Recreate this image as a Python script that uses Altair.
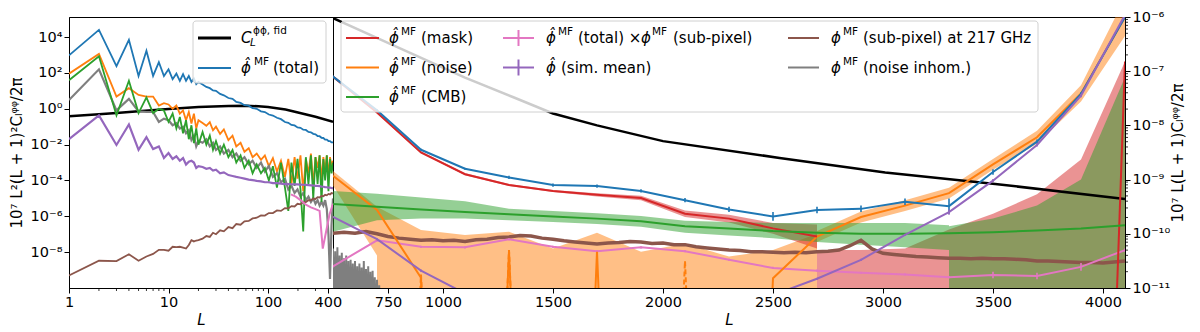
import altair as alt
import pandas as pd

FONT = "DejaVu Sans"
NEG = -30.0   # marks a non-positive value (falls off the log axis)

C_BLUE = "#1f77b4"; C_ORANGE = "#ff7f0e"; C_GREEN = "#2ca02c"; C_RED = "#d62728"
C_PURPLE = "#9467bd"; C_BROWN = "#8c564b"; C_PINK = "#e377c2"; C_GRAY = "#7f7f7f"

# ---------------- left panel data: L on log axis, log10 of 10^7 L^2(L+1)^2 C_L/2pi ----------------
L_left = [1, 2, 3, 4, 5, 6, 7, 8, 9, 10, 11, 12, 13, 14, 15, 16, 17, 18, 19, 20,
          22, 24, 26, 28, 30, 33, 36, 40, 44, 48, 53, 58, 64, 70, 77, 85, 93, 102, 112, 123, 135, 148,
          160, 172, 185, 198, 212, 226, 240, 255, 270, 285, 300, 315, 330, 345, 360, 375, 390, 405, 420, 435, 450]

blue_left = [2.98, 4.40, 2.38, 3.85, 1.83, 3.24, 1.83, 2.60, 1.83, 2.20, 1.65, 1.96, 1.56, 1.93, 1.56, 1.83, 1.50, 1.69, 1.37, 1.50,
             1.35, 1.22, 1.15, 1.02, 1.0, 0.83, 0.75, 0.6, 0.55, 0.38, 0.33, 0.2, 0.17, 0.03, 0.0, -0.14, -0.18, -0.32, -0.38, -0.5,
             -0.58, -0.74, -0.78, -0.9, -0.93, -1.04, -1.06, -1.17, -1.18, -1.29, -1.31, -1.4, -1.43, -1.52, -1.53, -1.62, -1.63,
             -1.72, -1.72, -1.8, -1.8, -1.88, -1.88]
orange_left = [1.96, 3.06, 0.68, 1.15, 0.77, 0.68, 0.68, 0.18, 0.31, 0.24, 0.0, 0.18, -0.27, -0.09, -0.64, -0.18, -0.82, -0.27, -1.1, -0.64,
               -0.8, -0.95, -0.75, -1.2, -1.0, -1.4, -1.15, -1.75, -1.5, -2.1, -1.9, -2.4, -2.2, -2.7, -2.5, -2.85, -2.6, -3.2, -2.75, -3.5,
               -2.9, -3.8, -2.8, -4.2, -2.7, -3.9, -2.6, -4.6, -2.8, -3.6, -2.5, -4.3, -2.7, -3.3, -2.6, -4.0, -2.7, -3.5, -2.6, -3.8,
               -2.7, -3.2, -2.9]
green_left = [1.59, 2.93, -0.37, 1.56, -0.24, 0.64, -0.24, 0.0, -0.1, -0.73, -0.27, -1.1, -0.46, -1.37, -0.64, -1.7, -0.92, -1.92, -1.1, -2.0,
              -1.3, -2.0, -1.5, -2.3, -1.8, -2.5, -2.0, -2.7, -2.3, -3.0, -2.6, -3.3, -2.9, -3.6, -3.1, -3.6, -3.3, -4.0, -3.2, -4.4,
              -3.0, -4.4, -5.7, -3.0, -4.3, -2.8, -4.5, -6.85, -2.7, -4.2, -2.6, -5.0, -2.7, -4.2, -2.6, -5.2, -2.8, -4.0, -2.6, -4.6,
              -2.8, -3.6, -3.0]
gray_left = [0.49, 2.2, -0.09, 0.55, -0.15, -0.18, -0.18, -0.73, -0.55, -0.64, -0.92, -0.8, -1.1, -1.0, -1.37, -1.2, -1.74, -1.5, -2.1, -1.8,
             -1.9, -1.7, -2.1, -1.9, -2.3, -2.1, -2.5, -2.3, -2.7, -2.5, -2.9, -2.7, -3.1, -2.9, -3.3, -3.0, -3.5, -3.2, -3.8, -3.6,
             -4.1, -3.9, -4.5, -4.3, -4.7, -4.5, -4.9, -4.7, -5.1, -4.9, -5.2, -5.0, -5.3, -5.1, -5.4, -5.2, -5.4, -5.1, -5.6, -7.0,
             -9.5, -6.5, -5.0]
purple_left = [-1.7, -0.37, -2.02, -0.88, -2.29, -1.59, -2.25, -2.1, -2.75, -2.47, -2.8, -2.65, -2.9, -2.75, -3.11, -2.95, -2.9, -3.0, -3.3, -3.2,
               -3.25, -3.35, -3.3, -3.45, -3.4, -3.6, -3.55, -3.7, -3.75, -3.8, -3.85, -3.9, -3.95, -3.98, -4.02, -4.05, -4.1, -4.1,
               -4.15, -4.15, -4.18, -4.2, -4.2, -4.21, -4.22, -4.22, -4.23, -4.24, -4.25, -4.26, -4.27, -4.28, -4.3, -4.3, -4.32,
               -4.34, -4.35, -4.37, -4.38, -4.4, -4.4, -4.42, -4.45]
brown_left = [-9.3, -8.48, -8.5, -8.12, -8.48, -8.24, -8.1, -7.87, -7.87, -7.92, -7.7, -7.72, -7.7, -7.75, -7.8, -7.6, -7.33, -7.4, -7.35, -7.33,
              -7.25, -7.1, -7.15, -6.92, -7.0, -6.78, -6.84, -6.6, -6.66, -6.43, -6.47, -6.28, -6.26, -6.12, -6.08, -5.95, -5.96,
              -5.82, -5.82, -5.67, -5.7, -5.54, -5.56, -5.43, -5.45, -5.3, -5.33, -5.2, -5.21, -5.1, -5.11, -5.01, -5.03, -4.93,
              -4.95, -4.86, -4.88, -4.8, -4.83, -4.75, -4.78, -4.7, -4.72]
pink_left_L = [170, 190, 214, 240, 270, 300, 330, 355, 415, 450]
pink_left = [-4.78, -4.9, -5.11, -5.35, -5.5, -5.6, -5.7, -7.8, -5.9, -5.3]
fid_left_L = [1, 2, 3, 5, 10, 20, 40, 60, 80, 100, 150, 200, 300, 450]
fid_left = [0.38, 0.5, 0.58, 0.72, 0.98, 1.25, 1.42, 1.45, 1.38, 1.25, 0.9, 0.62, 0.36, 0.19]   # linear values

# ---------------- right panel data: binned L, log10 of 10^7 L(L+1) C_L/2pi ----------------
L_bins = [500, 700, 900, 1100, 1300, 1500, 1700, 1900, 2100, 2300, 2500, 2700, 2900, 3100, 3300, 3500, 3700, 3900, 4100]
blue_R = [-7.1, -7.72, -8.45, -8.8, -8.96, -9.1, -9.12, -9.21, -9.38, -9.55, -9.68, -9.56, -9.54, -9.41, -9.49, -8.86, -8.3, -7.42, -6.0]
blue_err = [0.02, 0.02, 0.02, 0.02, 0.03, 0.03, 0.03, 0.03, 0.04, 0.05, 0.08, 0.06, 0.06, 0.06, 0.14, 0.05, 0.04, 0.03, 0.03]
red_R = [-7.1, -7.76, -8.5, -8.9, -9.1, -9.21, -9.28, -9.34, -9.63, -9.72, -9.9, -10.05, NEG, NEG, NEG, NEG, NEG, NEG, -6.82]
red_band_hw = [0.02, 0.02, 0.02, 0.02, 0.02, 0.02, 0.03, 0.04, 0.06, 0.07, 0.1, 0.22]          # bins 500..2700
red_wide_L = [2700, 2900, 3100, 3300, 3500, 3700, 3900, 4100]
red_wide_hi = [-10.3, -10.3, -10.27, -9.92, -9.63, -9.27, -8.63, -6.82]
orange_R = [-8.93, -9.56, -10.81, NEG, -10.32, NEG, -10.33, NEG, NEG, NEG, -10.82, -10.05, -9.69, -9.48, -9.25, -8.72, -8.22, -7.41, -6.0]
orange_neg = [NEG, NEG, -10.75, NEG, -10.3, NEG, NEG, NEG, -10.5, NEG, NEG, NEG, NEG, NEG, NEG, NEG, NEG, NEG, NEG]
orange_bandA_L = [500, 700]
orange_bandA_lo = [-9.11, -10.4]
orange_bandA_hi = [-8.84, -9.5]
orange_bandB_L = [700, 900, 1100, 1300, 1500, 1700, 1900, 2100, 2300, 2500, 2700]
orange_bandB_hi = [-9.5, -9.93, -10.02, -9.96, -10.27, -9.98, -10.33, -10.18, -10.42, -10.3, -10.0]
orange_bandC_hw = [0.1, 0.1, 0.1, 0.1, 0.1, 0.12, 0.15, 0.35]   # bins 2700..4100
green_R = [-9.45, -9.5, -9.55, -9.6, -9.64, -9.68, -9.72, -9.77, -9.86, -9.9, -9.95, -9.98, -10.0, -10.0, -9.99, -9.97, -9.94, -9.9, -9.84]
green_band_lo = [-9.96, -9.75, -9.72, -9.72, -9.75, -9.78, -9.82, -9.87, -9.98, -10.03, -10.08, -10.15, -10.2, -10.25, -10.3]
green_band_hi = [-9.21, -9.26, -9.33, -9.4, -9.54, -9.58, -9.62, -9.67, -9.76, -9.78, -9.8, -9.8, -9.8, -9.8, -9.84]
green_wide_L = [3300, 3500, 3700, 3900, 4100]
green_wide_hi = [-9.86, -9.72, -9.48, -9.0, -7.11]
purple_R = [-9.69, -10.1, -10.68, -11.1, -11.4, -11.55, -11.6, -11.6, -11.55, -11.4, -11.13, -10.83, -10.48, -10.02, -9.6, -9.02, -8.36, -7.45, -5.96]
purple_err = [0.02, 0.02, 0.02, 0.02, 0.02, 0.02, 0.02, 0.02, 0.02, 0.02, 0.02, 0.02, 0.02, 0.02, 0.05, 0.03, 0.03, 0.03, 0.03]
pink_R = [-10.6, -10.12, -10.24, -10.25, -10.1, -10.24, -10.32, -10.25, -10.32, -10.48, -10.63, -10.68, -10.72, -10.75, -10.8, -10.76, -10.78, -10.61, -10.3]
pink_err = [0.02, 0.02, 0.02, 0.02, 0.02, 0.02, 0.02, 0.02, 0.02, 0.02, 0.02, 0.02, 0.02, 0.02, 0.02, 0.06, 0.06, 0.07, 0.03]
fid_R_L = [500, 800, 1100, 1320, 1500, 1700, 2000, 2530, 3010, 3510, 4100]
fid_R = [-6.02, -6.57, -7.12, -7.48, -7.78, -8.0, -8.29, -8.6, -8.87, -9.08, -9.36]
brown_R_L = list(range(500, 4101, 50))
brown_R = [-9.99, -9.97, -9.99, -9.96, -10.0, -10.05, -10.08, -10.1, -10.12, -10.11, -10.13,
           -10.12, -10.14, -10.11, -10.1, -10.07, -10.06, -10.03, -10.04, -10.08, -10.1,
           -10.13, -10.15, -10.17, -10.19, -10.17, -10.16, -10.14, -10.15, -10.18, -10.17,
           -10.2, -10.2, -10.24, -10.26, -10.28, -10.3, -10.31, -10.33, -10.33, -10.34,
           -10.35, -10.34, -10.35, -10.33, -10.32, -10.3, -10.22, -10.12, -10.28, -10.36,
           -10.38, -10.4, -10.42, -10.43, -10.44, -10.45, -10.45, -10.46, -10.45, -10.46,
           -10.46, -10.47, -10.48, -10.5, -10.5, -10.51, -10.52, -10.53, -10.53, -10.54,
           -10.52, -10.5]
gray_R_L = list(range(500, 721, 5))
gray_R = [-10.27, -12, -10.32, -12, -10.25, -11.9, -10.4, -12, -10.35, -11.8, -10.45, -12, -10.4, -11.9, -10.5, -12,
          -10.48, -11.8, -10.55, -12, -10.5, -11.9, -10.6, -12, -10.55, -11.9, -10.62, -12, -10.5, -11.8, -10.65, -12,
          -10.6, -11.9, -10.7, -12, -10.68, -11.9, -10.8, -12, -10.85, -12, -10.95, -12, -11.2]

left_xticks = [1, 10, 100, 400]
left_xminor = [2, 3, 4, 5, 6, 7, 8, 9, 20, 30, 40, 50, 60, 70, 80, 90, 200, 300]
left_ypow = [4, 2, 0, -2, -4, -6, -8]
right_xticks = [750, 1000, 1500, 2000, 2500, 3000, 3500, 4000]
right_ypow = [-6, -7, -8, -9, -10, -11]
right_yminor = [k * 10.0 ** n for n in range(-11, -6) for k in range(2, 10)]

# ---------------- helpers ----------------
SUP = str.maketrans("-0123456789", "⁻⁰¹²³⁴⁵⁶⁷⁸⁹")


def pow_expr(pows):
    e = ""
    for p in pows:
        e += f"abs(log(datum.value)/LN10 - ({p})) < 0.01 ? '10{str(p).translate(SUP)}' : "
    return e + "''"


def pw(vals):
    return [10.0 ** v for v in vals]


def line_df(L, logv):
    return pd.DataFrame({"L": L, "v": pw(logv)})


def band_df(L, lo, hi):
    return pd.DataFrame({"L": L, "lo": pw(lo), "hi": pw(hi)})


one = pd.DataFrame({"k": [0]})
W_L, W_R, H = 264, 792, 271

xsL = alt.Scale(type="log", domain=[1, 450], nice=False)
ysL = alt.Scale(type="log", domain=[1e-10, 10 ** 5.12], nice=False)
axLx = alt.Axis(values=left_xticks, format="d", title="L", titleFontStyle="italic", labelFlush=False,
                grid=False, tickSize=5, labelPadding=2, titlePadding=4)
axLy = alt.Axis(values=[10.0 ** p for p in left_ypow], labelExpr=pow_expr(left_ypow),
                title="10⁷ L²(L + 1)²Cₗᵠᵠ/2π", grid=False, tickSize=5, titlePadding=6)

xsR = alt.Scale(domain=[500, 4100], nice=False, zero=False)
ysR = alt.Scale(type="log", domain=[1e-11, 1e-6], nice=False)
axRx = alt.Axis(values=right_xticks, format="d", title="L", titleFontStyle="italic", labelFlush=False,
                grid=False, tickSize=5, labelPadding=2, titlePadding=4)
axRy = alt.Axis(orient="right", values=[10.0 ** p for p in right_ypow], labelExpr=pow_expr(right_ypow),
                title="10⁷ L(L + 1)Cₗᵠᵠ/2π", titleAngle=270, grid=False, tickSize=5, titlePadding=16)


def make(xs, xa, ys, ya):
    def X():
        return alt.X("L:Q", scale=xs, axis=xa)

    def Y(f="v"):
        return alt.Y(f"{f}:Q", scale=ys, axis=ya)

    def line(df, color, width=2.0, **kw):
        return alt.Chart(df).mark_line(clip=True, color=color, strokeWidth=width, **kw).encode(x=X(), y=Y())

    def area(df, color, op=0.5):
        return alt.Chart(df).mark_area(clip=True, color=color, opacity=op).encode(
            x=X(), y=Y("lo"), y2=alt.Y2("hi:Q"))

    def err(df, color, width=2.0):
        return alt.Chart(df).mark_rule(clip=True, color=color, strokeWidth=width).encode(
            x=X(), y=Y("lo"), y2=alt.Y2("hi:Q"))

    return X, Y, line, area, err


def txt(x, y, s, size=15, italic=False, dy=0):
    return alt.Chart(one).mark_text(align="left", baseline="middle", font=FONT, fontSize=size,
                                    fontStyle="italic" if italic else "normal", dy=dy, color="black").encode(
        x=alt.value(x), y=alt.value(y), text=alt.value(s))


def swatch(x0, x1, y, color, width=2.0, errbar=False):
    out = [alt.Chart(one).mark_rule(color=color, strokeWidth=width).encode(
        x=alt.value(x0), x2=alt.value(x1), y=alt.value(y))]
    if errbar:
        out.append(alt.Chart(one).mark_rule(color=color, strokeWidth=width).encode(
            x=alt.value((x0 + x1) / 2), y=alt.value(y - 8), y2=alt.value(y + 8)))
    return out


def frame_box(x0, x1, y0, y1):
    return alt.Chart(one).mark_rect(fill="white", fillOpacity=0.8, stroke="#d0d0d0", strokeWidth=1,
                                    cornerRadius=3).encode(x=alt.value(x0), x2=alt.value(x1),
                                                           y=alt.value(y0), y2=alt.value(y1))


def mf_label(x, y, head, rest, italic_head=True, sup_dx=12, rest_dx=32):
    return [txt(x, y, head, italic=italic_head),
            txt(x + sup_dx, y, "MF", size=10.5, dy=-6),
            txt(x + rest_dx, y, rest)]


# ---------------- left panel ----------------
X, Y, line, area, err = make(xsL, axLx, ysL, axLy)
left_layers = [
    line(pd.DataFrame({"L": fid_left_L, "v": fid_left}), "black", 2.5),
    line(line_df(L_left, blue_left), C_BLUE, 1.8),
    line(line_df(L_left, orange_left), C_ORANGE, 1.8),
    line(line_df(L_left, gray_left), C_GRAY, 2.2),
    line(line_df(L_left, green_left), C_GREEN, 1.8),
    line(line_df(L_left, purple_left), C_PURPLE, 2.2),
    line(line_df(L_left, brown_left), C_BROWN, 1.8),
    line(line_df(pink_left_L, pink_left), C_PINK, 2.0),
    alt.Chart(pd.DataFrame({"L": left_xminor})).mark_rule(color="black", strokeWidth=0.8).encode(
        x=X(), y=alt.value(H), y2=alt.value(H + 3)),
    frame_box(124, 257, 4, 66),
]
left_layers += swatch(129, 162, 21, "black", 3)
left_layers += [txt(172, 21, "C", italic=True), txt(181, 21, "L", size=10.5, italic=True, dy=5),
                txt(184, 21, "ϕϕ, fid", size=10.5, dy=-7)]
left_layers += swatch(129, 162, 51, C_BLUE, 2)
left_layers += mf_label(172, 51, "ϕ̂", "(total)", sup_dx=13, rest_dx=32)
left = alt.layer(*left_layers).properties(width=W_L, height=H)

# ---------------- right panel ----------------
X, Y, line, area, err = make(xsR, axRx, ysR, axRy)
n_red = len(red_band_hw)
orC_L = L_bins[11:]
orC_c = orange_R[11:]
right_layers = [
    # shaded bands
    area(band_df(orange_bandA_L, orange_bandA_lo, orange_bandA_hi), C_ORANGE),
    area(band_df(orange_bandB_L, [NEG] * len(orange_bandB_L), orange_bandB_hi), C_ORANGE),
    area(band_df(orC_L, [c - h for c, h in zip(orC_c, orange_bandC_hw)],
                 [c + h for c, h in zip(orC_c, orange_bandC_hw)]), C_ORANGE),
    area(band_df(L_bins[:n_red], [c - h for c, h in zip(red_R[:n_red], red_band_hw)],
                 [c + h for c, h in zip(red_R[:n_red], red_band_hw)]), C_RED),
    area(band_df(red_wide_L, [NEG] * len(red_wide_L), red_wide_hi), C_RED),
    area(band_df(L_bins[:len(green_band_lo)], green_band_lo, green_band_hi), C_GREEN),
    area(band_df(green_wide_L, [NEG] * len(green_wide_L), green_wide_hi), C_GREEN),
    # lines
    line(line_df(fid_R_L, fid_R), "black", 2.5),
    line(line_df(gray_R_L, gray_R), C_GRAY, 2.0),
    line(line_df(brown_R_L, brown_R), C_BROWN, 3.5),
    line(line_df(L_bins, pink_R), C_PINK, 2),
    err(band_df(L_bins, [c - e for c, e in zip(pink_R, pink_err)], [c + e for c, e in zip(pink_R, pink_err)]), C_PINK, 1.6),
    line(line_df(L_bins, orange_R), C_ORANGE, 2),
    line(line_df(L_bins, orange_neg), C_ORANGE, 2, strokeDash=[5, 3]),
    # mask: positive bins up to 2700, then the last rise from the (negative) 3900 bin
    line(line_df(L_bins[:12], red_R[:12]), C_RED, 2),
    line(line_df(L_bins[17:], red_R[17:]), C_RED, 2),
    line(line_df(L_bins, green_R), C_GREEN, 2),
    line(line_df(L_bins, blue_R), C_BLUE, 2),
    err(band_df(L_bins, [c - e for c, e in zip(blue_R, blue_err)], [c + e for c, e in zip(blue_R, blue_err)]), C_BLUE, 1.6),
    line(line_df(L_bins, purple_R), C_PURPLE, 2),
    err(band_df(L_bins, [c - e for c, e in zip(purple_R, purple_err)], [c + e for c, e in zip(purple_R, purple_err)]), C_PURPLE, 1.6),
    alt.Chart(pd.DataFrame({"v": right_yminor})).mark_rule(color="black", strokeWidth=0.8).encode(
        y=Y(), x=alt.value(W_R), x2=alt.value(W_R + 3)),
    frame_box(8, 705, 4, 95),
]
rows = [21, 50.5, 80]
right_layers += swatch(13, 46, rows[0], C_RED) + mf_label(56, rows[0], "ϕ̂", "(mask)")
right_layers += swatch(13, 46, rows[1], C_ORANGE) + mf_label(56, rows[1], "ϕ̂", "(noise)")
right_layers += swatch(13, 46, rows[2], C_GREEN) + mf_label(56, rows[2], "ϕ̂", "(CMB)")
right_layers += swatch(170, 201, rows[0], C_PINK, errbar=True) + mf_label(213, rows[0], "ϕ̂", "(total) ×")
right_layers += [txt(308, rows[0], "ϕ", italic=True), txt(319, rows[0], "MF", size=10.5, dy=-6),
                 txt(340, rows[0], "(sub-pixel)")]
right_layers += swatch(170, 201, rows[1], C_PURPLE, errbar=True) + [txt(213, rows[1], "ϕ̂", italic=True),
                                                                    txt(228, rows[1], "(sim. mean)")]
right_layers += swatch(455, 486, rows[0], C_BROWN) + mf_label(498, rows[0], "ϕ", "(sub-pixel) at 217 GHz")
right_layers += swatch(455, 486, rows[1], C_GRAY) + mf_label(498, rows[1], "ϕ", "(noise inhom.)")
right = alt.layer(*right_layers).properties(width=W_R, height=H)

chart = alt.hconcat(left, right, spacing=0, bounds="flush").resolve_scale(
    x="independent", y="independent"
).properties(
    padding={"left": 0, "top": 0, "right": 0, "bottom": 0}
).configure_view(
    stroke="black", strokeWidth=1
).configure_axis(
    labelFont=FONT, titleFont=FONT, labelFontSize=14.5, titleFontSize=15, labelColor="black",
    titleColor="black", domainColor="black", tickColor="black", titleFontWeight="normal",
    domainWidth=1, tickWidth=1
)

chart.save("out.html", embed_options={"renderer": "svg", "actions": False})
